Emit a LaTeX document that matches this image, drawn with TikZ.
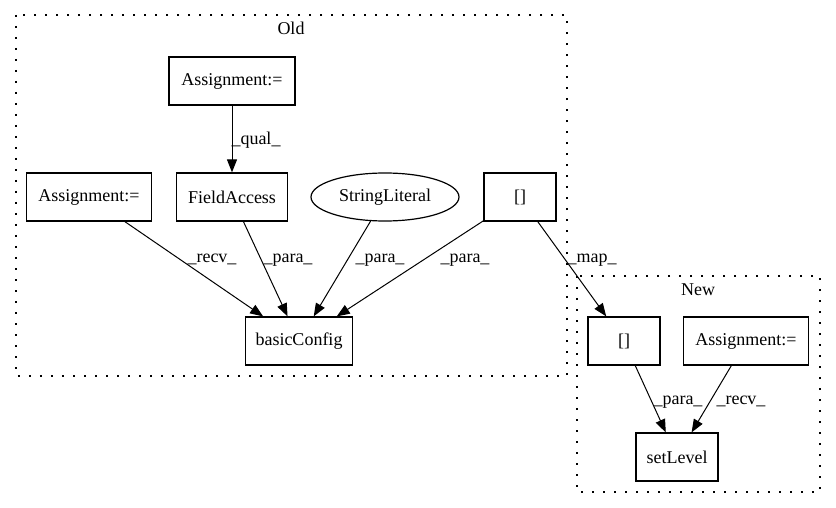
\documentclass[tikz,border=0pt]{standalone}
\usepackage{fontspec}
\setmainfont{Liberation Serif}
\usetikzlibrary{arrows.meta,shapes.geometric}

\begin{document}
\begin{tikzpicture}[x=1pt, y=-1pt,
    every node/.style={font=\fontsize{18}{20}\selectfont},
    box/.style={draw, line width=1.2pt, minimum height=48pt, inner sep=0pt},
    lit/.style={draw, ellipse, line width=1.2pt, minimum width=148pt,
        minimum height=48pt, inner sep=0pt},
    lbl/.style={inner sep=0pt, anchor=base},
    cluster/.style={line width=1.6pt, dash pattern=on 1.6pt off 9.4pt},
    flow/.style={line width=1pt, -{Triangle[length=13pt, width=10pt]}}
        ]

    \path [use as bounding box] (0,0) rectangle (836,508);

    % clusters
    \draw [cluster] (16,15) rectangle (567,376);
    \node [lbl] (oldtitle) at (291,35) {Old};

    \draw [cluster] (577,276) rectangle (820,492);
    \node [lbl] (newtitle) at (698,295) {New};

    % old graph
    \node [box, minimum width=126pt] (asgtop) at (232,81) {Assignment:=};
    \node [box, minimum width=125pt] (asgleft) at (89,197) {Assignment:=};
    \node [box, minimum width=111pt] (field) at (232,197) {FieldAccess};
    \node [lit] (strlit) at (385,197) {StringLiteral};
    \node [box, minimum width=72pt] (idxold) at (520,197) {[]};
    \node [box, minimum width=107pt] (basic) at (299,341) {basicConfig};

    % new graph
    \node [box, minimum width=72pt] (idxnew) at (624,341) {[]};
    \node [box, minimum width=125pt] (asgnew) at (746,341) {Assignment:=};
    \node [box, minimum width=82pt] (setlvl) at (677,457) {setLevel};

    \draw [flow] (asgtop) -- (field);
    \draw [flow] (asgleft) -- (basic);
    \draw [flow] (field) -- (basic);
    \draw [flow] (strlit) -- (basic);
    \draw [flow] (idxold) -- (basic);
    \draw [flow] (idxold) -- (idxnew);
    \draw [flow] (idxnew) -- (setlvl);
    \draw [flow] (asgnew) -- (setlvl);

    \node [lbl] (lqual) at (256,145) {\_qual\_};
    \node [lbl] (lrecv) at (212,262) {\_recv\_};
    \node [lbl] (lpara1) at (288,262) {\_para\_};
    \node [lbl] (lpara2) at (380,262) {\_para\_};
    \node [lbl] (lpara3) at (465,262) {\_para\_};
    \node [lbl] (lmap) at (592,262) {\_map\_};
    \node [lbl] (lpara4) at (678,404) {\_para\_};
    \node [lbl] (lrecv2) at (741,404) {\_recv\_};

\end{tikzpicture}
\end{document}
